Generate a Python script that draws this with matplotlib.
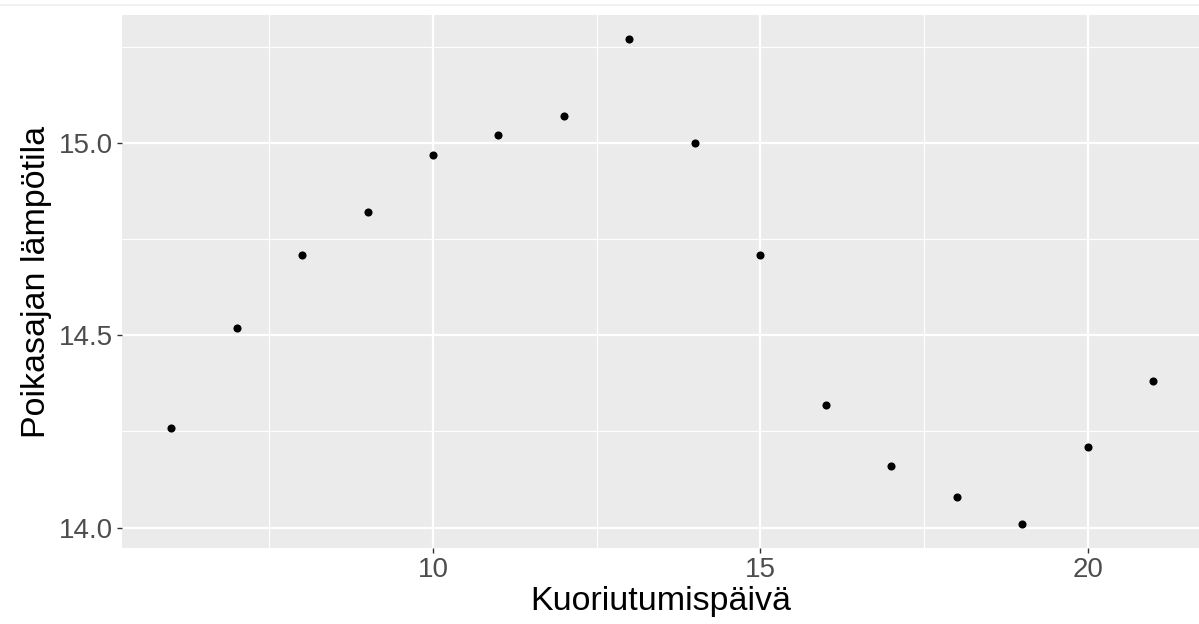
import matplotlib.pyplot as plt
from matplotlib.lines import Line2D
from matplotlib.ticker import MultipleLocator

# hatching day vs. chick-period temperature
paiva = [6, 7, 8, 9, 10, 11, 12, 13, 14, 15, 16, 17, 18, 19, 20, 21]
lampotila = [14.26, 14.52, 14.71, 14.82, 14.97, 15.02, 15.07, 15.27,
             15.00, 14.71, 14.32, 14.16, 14.08, 14.01, 14.21, 14.38]
x_ticks = [10, 15, 20]
y_ticks = [14.0, 14.5, 15.0]
y_labels = ["14.0", "14.5", "15.0"]

plt.rcParams['font.family'] = ['Liberation Sans', 'DejaVu Sans']

fig = plt.figure(figsize=(11.99, 6.24), dpi=100)
ax = fig.add_axes([122 / 1199, 76 / 624, 1 - 122 / 1199, (548 - 15) / 624])

ax.set_facecolor('#EBEBEB')
for s in ax.spines.values():
    s.set_visible(False)

ax.scatter(paiva, lampotila, s=34, color='black', zorder=3, linewidths=0)

ax.set_xlim(5.25, 21.70)
ax.set_ylim(13.947, 15.333)
ax.set_xticks(x_ticks)
ax.set_yticks(y_ticks)
ax.set_yticklabels(y_labels)
ax.xaxis.set_minor_locator(MultipleLocator(2.5))
ax.yaxis.set_minor_locator(MultipleLocator(0.25))

ax.grid(which='major', color='white', linewidth=1.6, zorder=0)
ax.grid(which='minor', color='white', linewidth=0.8, zorder=0)
ax.set_axisbelow(True)

ax.tick_params(which='major', length=3.5, width=1, color='#333333',
               labelsize=20, labelcolor='#4D4D4D', pad=3)
ax.tick_params(which='minor', length=0)

ax.set_xlabel('Kuoriutumispäivä', fontsize=24.5, labelpad=2)
ax.set_ylabel('Poikasajan lämpötila', fontsize=24.5, labelpad=5)

fig.add_artist(Line2D([0, 1], [1 - 4.5 / 624, 1 - 4.5 / 624],
                      color='#EFEFEF', linewidth=1.2))

fig.savefig('out.png', dpi=100)
